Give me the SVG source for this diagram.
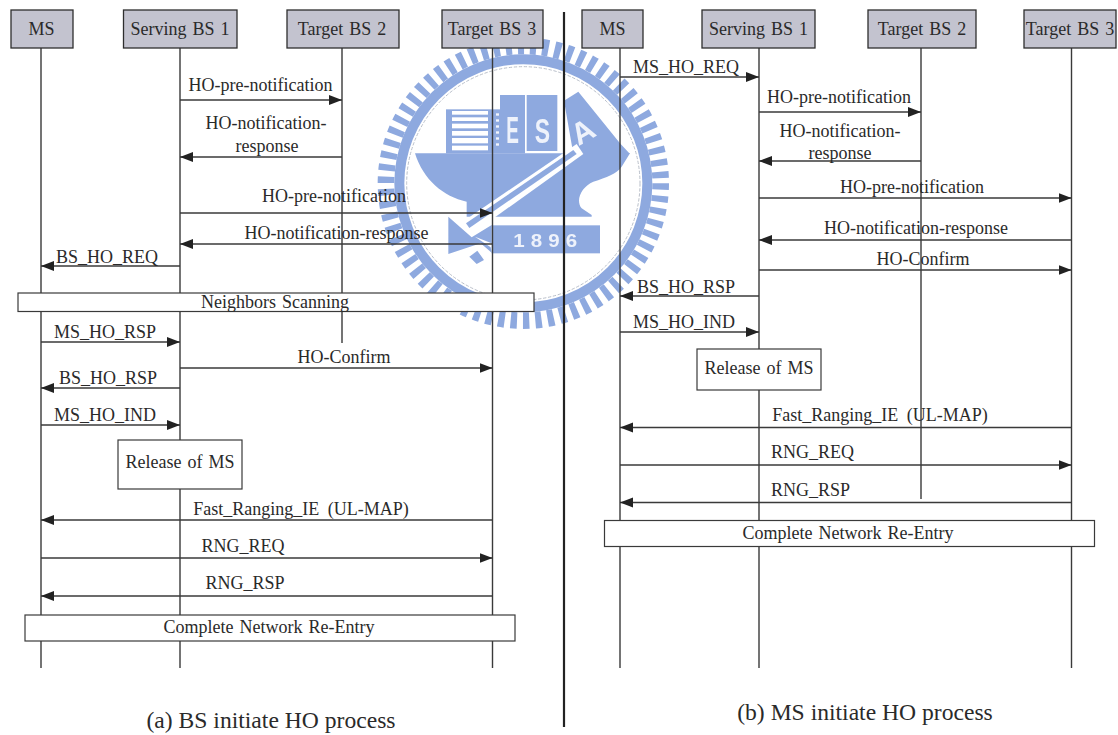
<svg xmlns="http://www.w3.org/2000/svg" width="1118" height="735" viewBox="0 0 1118 735">
<style>
text{font-family:"Liberation Serif","Times New Roman",serif;font-size:18px;fill:#2a2a2a;word-spacing:1.5px}
.m{text-anchor:middle}
.cap{font-size:23.6px;word-spacing:0}
.life{stroke:#3a3a3a;stroke-width:1.4;fill:none}
.head{fill:#c3c3cf;stroke:#2e2e2e;stroke-width:1.3}
.box{fill:#fff;stroke:#3a3a3a;stroke-width:1.2}
.msg{stroke:#3a3a3a;stroke-width:1.3;fill:none;marker-end:url(#a)}
.lb{fill:#8ea9df}
.lw{fill:#fff}
.lt{font-family:"Liberation Sans",sans-serif;font-weight:700;fill:#eef2fb;text-anchor:middle;word-spacing:0}
</style>
<defs>
<marker id="a" markerUnits="userSpaceOnUse" markerWidth="14" markerHeight="11" refX="13" refY="5" orient="auto"><path d="M0,0L13,5L0,10Z" fill="#222"/></marker>
<filter id="soft" x="-5%" y="-5%" width="110%" height="110%"><feGaussianBlur stdDeviation="1.6"/></filter>
</defs>
<g id="logo" transform="translate(360,30) scale(.33333)" filter="url(#soft)">
<circle cx="490" cy="460" r="412" fill="none" stroke="#8ea9df" stroke-width="50" stroke-dasharray="19 18"/>
<circle cx="490" cy="460" r="372" fill="none" stroke="#8ea9df" stroke-width="30"/>
<circle cx="490" cy="460" r="350" fill="none" stroke="#b9bfc9" stroke-width="3" stroke-dasharray="10 5"/>
<path class="lb" d="M165,370H810L785,410C770,432 740,442 700,455C665,470 645,510 665,535L695,555V560H320V515C250,500 190,450 165,370Z"/>
<rect class="lb" x="258" y="238" width="162" height="132"/>
<g fill="#fff"><rect x="276" y="243" width="108" height="11"/><rect x="276" y="262" width="108" height="11"/><rect x="276" y="281" width="108" height="14"/><rect x="276" y="303" width="108" height="14"/><rect x="276" y="324" width="108" height="16"/><rect x="276" y="347" width="108" height="14"/></g>
<g fill="#f4f6fc"><rect x="408" y="250" width="9" height="7"/><rect x="408" y="268" width="9" height="7"/><rect x="408" y="286" width="9" height="7"/><rect x="408" y="304" width="9" height="7"/><rect x="408" y="322" width="9" height="7"/><rect x="408" y="340" width="9" height="7"/></g>
<rect class="lb" x="420" y="195" width="75" height="175"/>
<rect class="lb" x="500" y="195" width="92" height="168"/>
<path class="lb" d="M612,212L655,185L780,340L810,372H640Z"/>
<path class="lb" d="M265,560L335,622L395,585V640L345,620L392,652L395,668L362,640L265,672Z"/>
<path class="lb" d="M328,680L352,662L372,690L350,702Z"/>
<path class="lw" d="M298,582L650,342L670,372L335,612Z"/>
<path class="lb" d="M318,580L640,360L650,372L328,594Z"/>
<rect class="lb" x="395" y="586" width="325" height="84"/>
<text class="lt" x="565" y="650" textLength="210" lengthAdjust="spacingAndGlyphs" style="font-size:54px;letter-spacing:16px">1896</text>
<text class="lt" x="458" y="340" textLength="38" lengthAdjust="spacingAndGlyphs" style="font-size:110px">E</text>
<text class="lt" x="547" y="340" textLength="46" lengthAdjust="spacingAndGlyphs" style="font-size:104px">S</text>
<text class="lt" x="0" y="0" style="font-size:92px" transform="translate(684,332) rotate(-30)">A</text>
</g>
<g id="connectors">
<path class="life" d="M41,46V668M180,46V668M342,46V343M492.500,46V668"/>
<path class="life" d="M620,46V668M759,46V668M921,46V499M1071.500,46V668"/>
<path d="M564,12V727" stroke="#222" stroke-width="2.2" fill="none"/>
<path class="msg" d="M180,100H342"/><path class="msg" d="M342,157H180"/><path class="msg" d="M180,213H492.500"/><path class="msg" d="M492.500,244H180"/><path class="msg" d="M180,266H41"/><path class="msg" d="M41,342H180"/><path class="msg" d="M180,368H492.500"/><path class="msg" d="M180,388H41"/><path class="msg" d="M41,425H180"/><path class="msg" d="M492.500,520H41"/><path class="msg" d="M41,558H492.500"/><path class="msg" d="M492.500,596H41"/>
<path class="msg" d="M620,77H759"/><path class="msg" d="M759,112H921"/><path class="msg" d="M921,161H759"/><path class="msg" d="M759,198H1071.500"/><path class="msg" d="M1071.500,240H759"/><path class="msg" d="M759,270H1071.500"/><path class="msg" d="M759,296H620"/><path class="msg" d="M620,332H759"/><path class="msg" d="M1071.500,427.500H620"/><path class="msg" d="M620,465H1071.500"/><path class="msg" d="M1071.500,502.500H620"/>
</g>
<g id="a-ms"><rect class="head" x="11" y="10" width="62" height="38"/><text class="m" x="41.500" y="35">MS</text></g>
<g id="a-bs1"><rect class="head" x="123.500" y="10" width="113.500" height="38"/><text class="m" x="180" y="35">Serving BS 1</text></g>
<g id="a-bs2"><rect class="head" x="287" y="10" width="112" height="38"/><text class="m" x="342" y="35">Target BS 2</text></g>
<g id="a-bs3"><rect class="head" x="442" y="10" width="101" height="38"/><text class="m" x="492" y="35">Target BS 3</text></g>
<g id="b-ms"><rect class="head" x="582" y="10" width="61" height="38"/><text class="m" x="612.500" y="35">MS</text></g>
<g id="b-bs1"><rect class="head" x="702" y="10" width="113" height="38"/><text class="m" x="758.500" y="35">Serving BS 1</text></g>
<g id="b-bs2"><rect class="head" x="868" y="10" width="108" height="38"/><text class="m" x="922" y="35">Target BS 2</text></g>
<g id="b-bs3"><rect class="head" x="1024" y="10" width="92" height="38"/><text class="m" x="1070" y="35">Target BS 3</text></g>
<g id="a-scan"><rect class="box" x="18" y="293" width="516" height="18.500"/><text class="m" x="275" y="308">Neighbors Scanning</text></g>
<g id="a-release"><rect class="box" x="118" y="440" width="124" height="49"/><text class="m" x="180" y="468">Release of MS</text></g>
<g id="a-entry"><rect class="box" x="25" y="615" width="490" height="26"/><text class="m" x="269" y="633">Complete Network Re-Entry</text></g>
<g id="b-release"><rect class="box" x="697" y="349" width="124" height="41"/><text class="m" x="759" y="374">Release of MS</text></g>
<g id="b-entry"><rect class="box" x="604.500" y="520.500" width="490" height="26"/><text class="m" x="848" y="538.500">Complete Network Re-Entry</text></g>
<g id="labels">
<text class="m" x="260.500" y="91">HO-pre-notification</text>
<text class="m" x="266" y="129">HO-notification-</text><text class="m" x="267" y="152">response</text>
<text class="m" x="334" y="202">HO-pre-notification</text>
<text class="m" x="336.500" y="239">HO-notification-response</text>
<text class="m" x="107" y="263">BS_HO_REQ</text>
<text class="m" x="105" y="338">MS_HO_RSP</text>
<text class="m" x="344" y="363">HO-Confirm</text>
<text class="m" x="108" y="384">BS_HO_RSP</text>
<text class="m" x="105" y="421">MS_HO_IND</text>
<text class="m" x="301" y="515" style="word-spacing:4px">Fast_Ranging_IE (UL-MAP)</text>
<text class="m" x="243" y="552">RNG_REQ</text>
<text class="m" x="245" y="589">RNG_RSP</text>
<text class="m" x="686" y="73">MS_HO_REQ</text>
<text class="m" x="839" y="103">HO-pre-notification</text>
<text class="m" x="840" y="137">HO-notification-</text><text class="m" x="840" y="159">response</text>
<text class="m" x="912" y="193">HO-pre-notification</text>
<text class="m" x="916" y="234">HO-notification-response</text>
<text class="m" x="923" y="265">HO-Confirm</text>
<text class="m" x="686" y="293">BS_HO_RSP</text>
<text class="m" x="684" y="328">MS_HO_IND</text>
<text class="m" x="880" y="421" style="word-spacing:4px">Fast_Ranging_IE (UL-MAP)</text>
<text class="m" x="812.500" y="458">RNG_REQ</text>
<text class="m" x="810.500" y="496">RNG_RSP</text>
<text class="m cap" x="271" y="728">(a) BS initiate HO process</text>
<text class="m cap" x="865" y="720">(b) MS initiate HO process</text>
</g>
</svg>
